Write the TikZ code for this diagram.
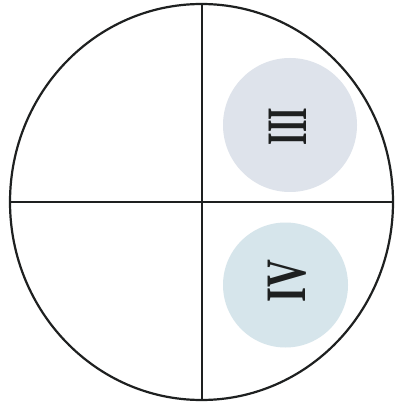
\documentclass[tikz,border=0pt]{standalone}
\usepackage{fontspec}
\setmainfont{Liberation Serif}
\definecolor{discA}{RGB}{222,227,235}
\definecolor{discB}{RGB}{214,229,235}
\definecolor{ink}{RGB}{30,32,32}
\begin{document}
\begin{tikzpicture}[x=1pt,y=-1pt,
  outer/.style={draw=ink,line width=2.2pt},
  cross/.style={draw=ink,line width=1.2pt},
  numeral/.style={font=\bfseries\fontsize{52}{52}\selectfont,text=ink,inner sep=0pt,rotate=90,transform shape}]
\useasboundingbox (0,0) rectangle (394,411);
\fill[white] (0,0) rectangle (394,411);
\coordinate (c) at (201.5,202);
\coordinate (top) at (202,4);
\coordinate (bot) at (202,400);
\coordinate (lft) at (10,202);
\coordinate (rgt) at (393,202);
\node[circle,fill=discA,minimum size=134pt,inner sep=0pt] (d3) at (290,125) {};
\node[circle,fill=discB,minimum size=125pt,inner sep=0pt] (d4) at (285.5,285) {};
\node[numeral,xscale=0.62,yscale=1.1] (t3) at (287.5,126.5) {III};
\node[numeral,xscale=0.74,yscale=1.1] (t4) at (287.5,281) {IV};
\draw[cross] (top) -- (bot);
\draw[cross] (lft) -- (rgt);
\draw[outer] (c) ellipse [x radius=191.5, y radius=198];
\end{tikzpicture}
\end{document}
